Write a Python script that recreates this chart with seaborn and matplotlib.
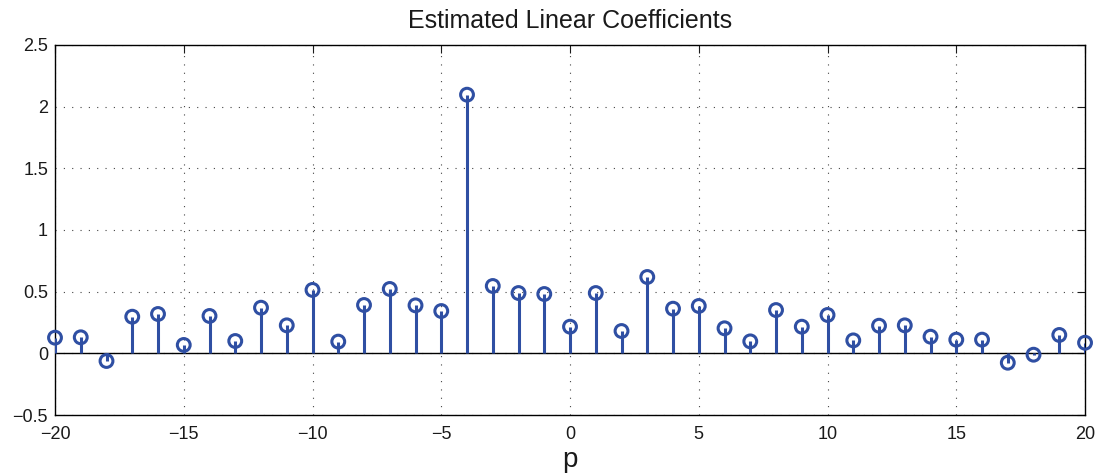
import numpy as np
import pandas as pd
import matplotlib
matplotlib.use("Agg")
import matplotlib.pyplot as plt
import seaborn as sns

# Lag index and estimated linear coefficient at each lag
lags = list(range(-20, 21))
coefficients = [
    0.127, 0.130, -0.062, 0.297, 0.319, 0.068, 0.303, 0.100, 0.370, 0.227,
    0.514, 0.095, 0.392, 0.522, 0.389, 0.343, 2.097, 0.546, 0.489, 0.481,
    0.216, 0.489, 0.181, 0.619, 0.362, 0.384, 0.203, 0.097, 0.351, 0.216,
    0.311, 0.105, 0.224, 0.227, 0.135, 0.111, 0.111, -0.076, -0.011, 0.149,
    0.086,
]
x_ticks = [-20, -15, -10, -5, 0, 5, 10, 15, 20]
y_ticks = [-0.5, 0, 0.5, 1, 1.5, 2, 2.5]

df = pd.DataFrame({"p": lags, "coef": coefficients})

sns.set_style("white")
plt.rcParams["font.family"] = ["Liberation Sans", "DejaVu Sans"]
plt.rcParams["axes.unicode_minus"] = True

stem_color = "#2f4fa3"

fig = plt.figure(figsize=(11, 4.73), dpi=100)
ax = fig.add_axes([0.05, 0.1226, 0.9364, 0.7823])

# stems from the baseline up (or down) to each coefficient
ax.vlines(df["p"], 0, df["coef"], color=stem_color, linewidth=2.2, zorder=3)
ax.axhline(0, color="black", linewidth=1.0, zorder=2)
sns.scatterplot(data=df, x="p", y="coef", ax=ax, marker="o", s=85,
                facecolors="none", edgecolor=stem_color, linewidth=2.2,
                zorder=4, clip_on=False)

ax.set_xlim(-20, 20)
ax.set_ylim(-0.5, 2.5)
ax.set_xticks(x_ticks)
ax.set_yticks(y_ticks)
ax.set_xticklabels([str(t).replace("-", "\u2212") for t in x_ticks])
ax.set_yticklabels([("%g" % t).replace("-", "\u2212") for t in y_ticks])

ax.grid(True, linestyle=(0, (1, 6.5)), color="#444444", linewidth=0.8)
ax.tick_params(direction="in", length=6, width=0.8, top=True, right=True,
               labelsize=13, colors="#1a1a1a", pad=5)
ax.tick_params(axis="x", pad=8)
for spine in ax.spines.values():
    spine.set_color("black")
    spine.set_linewidth(1.0)

ax.set_title("Estimated Linear Coefficients", fontsize=18, pad=12,
             color="#1a1a1a")
ax.set_xlabel("p", fontsize=20, labelpad=3, color="#1a1a1a")
ax.set_ylabel("")

fig.savefig("out.png", dpi=100)
